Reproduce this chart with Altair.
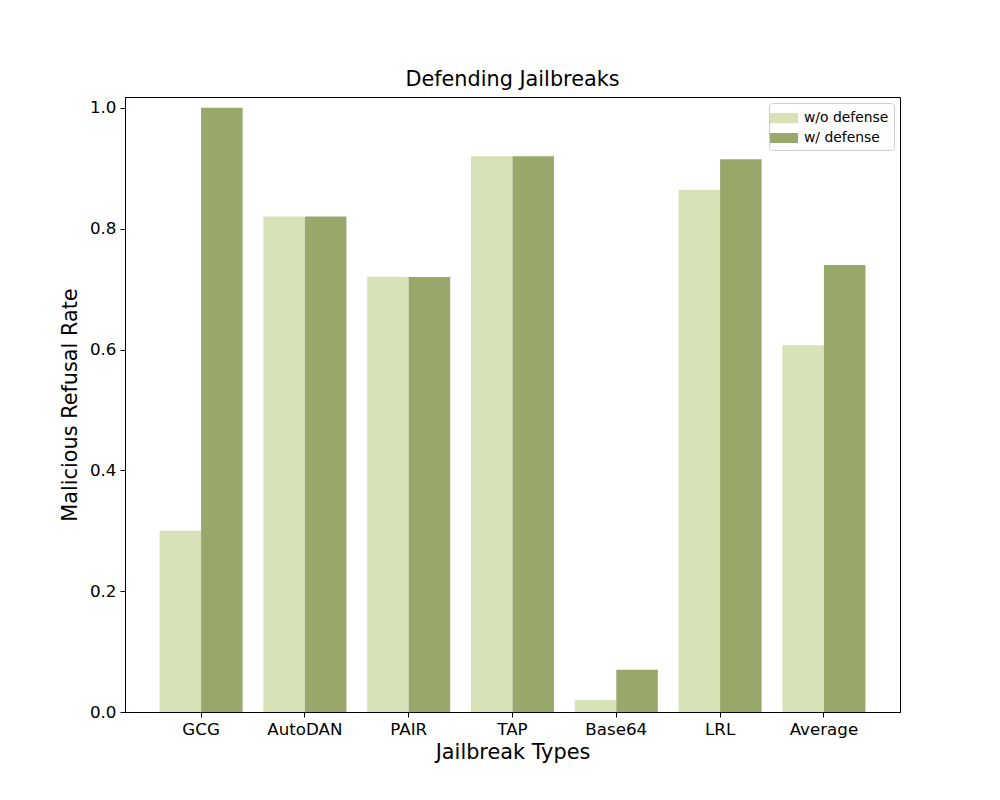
import altair as alt
import pandas as pd

categories = ["GCG", "AutoDAN", "PAIR", "TAP", "Base64", "LRL", "Average"]
wo_defense = [0.30, 0.82, 0.72, 0.92, 0.02, 0.864, 0.607]
w_defense = [1.00, 0.82, 0.72, 0.92, 0.07, 0.915, 0.740]
series = ["w/o defense", "w/ defense"]
colors = ["#d7e2b7", "#98a86a"]

rows = []
for c, a, b in zip(categories, wo_defense, w_defense):
    rows.append({"cat": c, "series": series[0], "value": a})
    rows.append({"cat": c, "series": series[1], "value": b})
df = pd.DataFrame(rows)

FONT = "DejaVu Sans"

chart = alt.Chart(df).mark_bar().encode(
    x=alt.X("cat:N", sort=categories,
            scale=alt.Scale(paddingInner=0.2, paddingOuter=0.333),
            axis=alt.Axis(title="Jailbreak Types", labelAngle=0, labelFontSize=16.7,
                          titleFontSize=20.8, titleFontWeight="normal", labelColor="black",
                          titleColor="black", domainColor="black", tickColor="black",
                          tickSize=5, labelPadding=4, titlePadding=5,
                          labelFont=FONT, titleFont=FONT)),
    xOffset=alt.XOffset("series:N", sort=series),
    y=alt.Y("value:Q", scale=alt.Scale(domain=[0, 1.018], nice=False),
            axis=alt.Axis(title="Malicious Refusal Rate", values=[0, 0.2, 0.4, 0.6, 0.8, 1.0],
                          format=".1f", grid=False, labelFontSize=16.7, titleFontSize=20.8,
                          titleFontWeight="normal", labelColor="black", titleColor="black",
                          domainColor="black", tickColor="black", tickSize=5,
                          labelPadding=4, titlePadding=9, labelFont=FONT, titleFont=FONT)),
    color=alt.Color("series:N", sort=series,
                    scale=alt.Scale(domain=series, range=colors),
                    legend=alt.Legend(title=None, orient="top-right", offset=6,
                                      labelFontSize=13.9, labelFont=FONT, labelColor="black",
                                      symbolType="M-1.4,-0.5L1.4,-0.5L1.4,0.5L-1.4,0.5Z",
                                      symbolSize=400, symbolStrokeWidth=0,
                                      strokeColor="#cccccc", fillColor="white",
                                      cornerRadius=3, padding=5, rowPadding=3,
                                      symbolOffset=0, labelOffset=10)),
).properties(
    width=775, height=615,
    title=alt.TitleParams("Defending Jailbreaks", fontSize=20.8, fontWeight="normal",
                          font=FONT, color="black", offset=6),
    autosize=alt.AutoSizeParams(type="none"),
    padding={"left": 117, "top": 89, "right": 92, "bottom": 80},
).configure_view(stroke="black", strokeWidth=1)

chart.save("out.html", embed_options={"renderer": "svg", "actions": False})
